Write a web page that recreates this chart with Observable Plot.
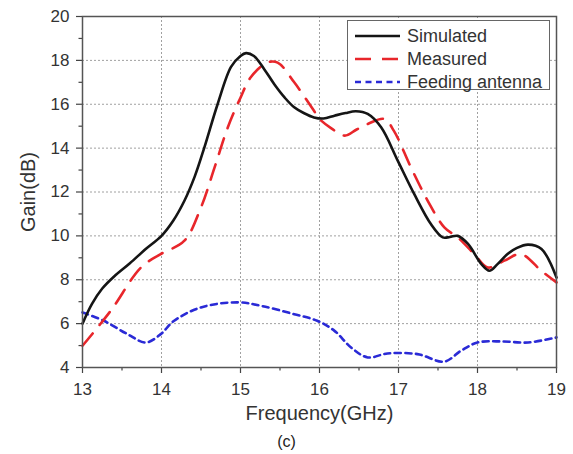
<!DOCTYPE html>
<html>
<head>
<meta charset="utf-8">
<script src="https://cdn.jsdelivr.net/npm/d3@7"></script>
<script src="https://cdn.jsdelivr.net/npm/@observablehq/plot@0.6"></script>
<style>
  body { margin: 0; background: #fff; }
  #wrap { position: relative; width: 573px; height: 454px; font-family: "Liberation Sans", Arial, sans-serif; }
  #legend { position: absolute; left: 347px; top: 20px; width: 203px; height: 70px; border: 1.5px solid #666; background: #fff; box-sizing: border-box; }
  .row { position: absolute; left: 0; height: 22px; display: flex; align-items: center; }
  .row span { font-size: 18px; color: #333; margin-left: 6px; }
  #caption { position: absolute; left: 0; width: 573px; top: 433px; text-align: center; font-size: 16px; color: #222; }
</style>
</head>
<body>
<div id="wrap"></div>
<script>
const freqSim = [13.0, 13.12, 13.25, 13.4, 13.6, 13.8, 14.0, 14.15, 14.29, 14.42, 14.54, 14.71, 14.88, 15.0, 15.07, 15.17, 15.3, 15.43, 15.56, 15.68, 15.8, 15.93, 16.05, 16.19, 16.33, 16.46, 16.61, 16.78, 16.99, 17.2, 17.41, 17.56, 17.65, 17.75, 17.88, 18.05, 18.15, 18.25, 18.38, 18.5, 18.64, 18.81, 19.0];
const gainSim = [6.0, 6.9, 7.6, 8.15, 8.75, 9.4, 10.0, 10.7, 11.6, 12.7, 14.0, 16.0, 17.7, 18.2, 18.33, 18.2, 17.6, 16.9, 16.3, 15.86, 15.6, 15.4, 15.35, 15.48, 15.6, 15.68, 15.56, 14.95, 13.43, 11.9, 10.54, 9.93, 9.95, 10.0, 9.63, 8.71, 8.41, 8.7, 9.17, 9.45, 9.6, 9.4, 8.1];

const freqMeas = [13.0, 13.36, 13.74, 13.99, 14.29, 14.5, 14.67, 14.84, 15.0, 15.13, 15.34, 15.47, 15.68, 15.93, 16.0, 16.15, 16.32, 16.47, 16.61, 16.82, 16.94, 17.16, 17.37, 17.58, 17.75, 17.96, 18.13, 18.34, 18.55, 18.81, 19.0];
const gainMeas = [4.99, 6.6, 8.56, 9.17, 9.78, 11.3, 13.1, 14.95, 16.3, 17.23, 17.9, 17.9, 17.0, 15.7, 15.33, 14.9, 14.57, 14.85, 15.1, 15.33, 14.8, 13.1, 11.6, 10.39, 9.93, 9.17, 8.56, 8.87, 9.17, 8.4, 7.88];

const freqFeed = [13.0, 13.27, 13.57, 13.8, 13.99, 14.16, 14.5, 14.96, 15.26, 15.68, 15.97, 16.19, 16.4, 16.61, 16.86, 17.24, 17.58, 17.79, 18.0, 18.3, 18.64, 19.0];
const gainFeed = [6.51, 6.13, 5.52, 5.14, 5.52, 6.13, 6.74, 6.97, 6.81, 6.43, 6.13, 5.67, 4.91, 4.46, 4.64, 4.61, 4.27, 4.76, 5.14, 5.19, 5.14, 5.37];

const xMajor = [13, 14, 15, 16, 17, 18, 19];
const xMinor = [13.5, 14.5, 15.5, 16.5, 17.5, 18.5];
const yMajor = [4, 6, 8, 10, 12, 14, 16, 18, 20];
const yMinor = [5, 7, 9, 11, 13, 15, 17, 19];

const seriesNames = ["Simulated", "Measured", "Feeding antenna"];
const seriesColors = ["#151515", "#e8262b", "#2a2ad6"];
const seriesDash = [null, "16,11", "6,4.5"];

const sim = freqSim.map((f, i) => ({f, g: gainSim[i]}));
const meas = freqMeas.map((f, i) => ({f, g: gainMeas[i]}));
const feed = freqFeed.map((f, i) => ({f, g: gainFeed[i]}));

const textColor = "#333";
const plot = Plot.plot({
  width: 573,
  height: 454,
  marginLeft: 82,
  marginRight: 17,
  marginTop: 16,
  marginBottom: 87,
  style: {fontFamily: '"Liberation Sans", Arial, sans-serif', background: "#fff"},
  x: {domain: [13, 19]},
  y: {domain: [4, 20]},
  marks: [
    Plot.gridX(xMajor, {stroke: "#a0a0a0", strokeOpacity: 1, strokeDasharray: "2,2", strokeWidth: 1}),
    Plot.gridY(yMajor, {stroke: "#a0a0a0", strokeOpacity: 1, strokeDasharray: "2,2", strokeWidth: 1}),
    Plot.axisX({ticks: xMajor, tickSize: 6, tickPadding: 9, fontSize: 17, color: textColor, stroke: "#444", strokeWidth: 1.2, label: null, tickFormat: d => String(d)}),
    Plot.axisX({ticks: xMinor, tickSize: 3.5, stroke: "#444", strokeWidth: 1.2, text: null, label: null}),
    Plot.axisY({ticks: yMajor, tickSize: 6, tickPadding: 7, fontSize: 17, color: textColor, stroke: "#444", strokeWidth: 1.2, label: null, tickFormat: d => String(d)}),
    Plot.axisY({ticks: yMinor, tickSize: 3.5, stroke: "#444", strokeWidth: 1.2, text: null, label: null}),
    Plot.line(feed, {x: "f", y: "g", stroke: seriesColors[2], strokeWidth: 2.6, strokeDasharray: seriesDash[2], curve: "catmull-rom"}),
    Plot.line(meas, {x: "f", y: "g", stroke: seriesColors[1], strokeWidth: 2.6, strokeDasharray: seriesDash[1], curve: "catmull-rom"}),
    Plot.line(sim, {x: "f", y: "g", stroke: seriesColors[0], strokeWidth: 2.6, curve: "catmull-rom"}),
    Plot.frame({stroke: "#555", strokeWidth: 1.5}),
    Plot.text(["Gain(dB)"], {frameAnchor: "left", dx: -54, rotate: -90, fontSize: 20, fill: textColor, textAnchor: "middle", lineAnchor: "middle"}),
    Plot.text(["Frequency(GHz)"], {frameAnchor: "bottom", dy: 46, fontSize: 20, fill: textColor, textAnchor: "middle", lineAnchor: "middle"})
  ]
});

const wrap = document.getElementById("wrap");
wrap.appendChild(plot);

// legend
const legend = document.createElement("div");
legend.id = "legend";
const rowTops = [4, 27, 50];
seriesNames.forEach((name, i) => {
  const row = document.createElement("div");
  row.className = "row";
  row.style.top = rowTops[i] + "px";
  row.style.left = "7px";
  const svg = d3.create("svg").attr("width", 46).attr("height", 22);
  svg.append("line").attr("x1", 0).attr("x2", 45).attr("y1", 11).attr("y2", 11)
    .attr("stroke", seriesColors[i]).attr("stroke-width", 2.6)
    .attr("stroke-dasharray", seriesDash[i] || null);
  row.appendChild(svg.node());
  const span = document.createElement("span");
  span.textContent = name;
  row.appendChild(span);
  legend.appendChild(row);
});
wrap.appendChild(legend);

const cap = document.createElement("div");
cap.id = "caption";
cap.textContent = "(c)";
wrap.appendChild(cap);
</script>
</body>
</html>
